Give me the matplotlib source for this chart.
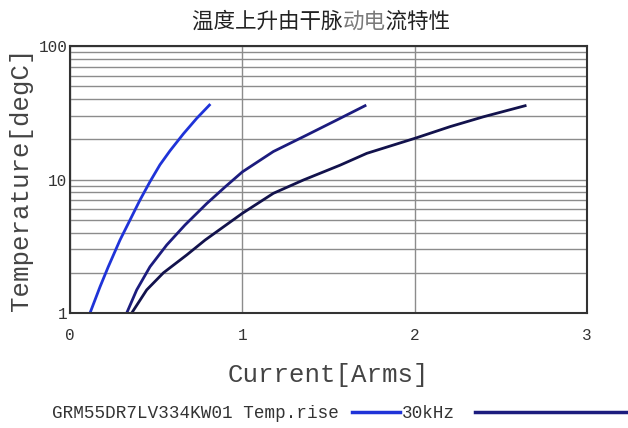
import numpy as np
import matplotlib.pyplot as plt
from matplotlib.lines import Line2D

# Datos (corriente [Arms], temperatura [degC])
i_30k = [0.116, 0.174, 0.222, 0.290, 0.348, 0.406, 0.464, 0.522, 0.580, 0.658, 0.735, 0.809]
t_30k = [1.0, 1.57, 2.22, 3.52, 4.97, 7.02, 9.63, 12.9, 16.4, 22.0, 28.7, 36.1]

i_mid = [0.329, 0.387, 0.464, 0.561, 0.667, 0.793, 0.900, 1.000, 1.180, 1.373, 1.548, 1.712]
t_mid = [1.0, 1.49, 2.22, 3.23, 4.56, 6.6, 8.8, 11.4, 16.2, 21.5, 27.9, 35.7]

i_low = [0.358, 0.445, 0.542, 0.677, 0.784, 1.000, 1.180, 1.354, 1.567, 1.722,
         2.004, 2.206, 2.399, 2.641]
t_low = [1.0, 1.49, 2.0, 2.72, 3.52, 5.58, 7.88, 9.91, 12.8, 15.7,
         20.4, 24.9, 29.5, 35.7]

colores = ['#1f33d8', '#1c1c7e', '#12124c']
x_ticks = [0, 1, 2, 3]
y_ticks = [1, 10, 100]

titulo_ini = '温度上升由干脉'
titulo_gris = '动电'
titulo_fin = '流特性'

mono = 'Liberation Mono'

fig = plt.figure(figsize=(6.28, 4.28), dpi=100)
ax = fig.add_axes([0.1115, 0.2687, 0.8232, 0.6238])

for xs, ys, c in zip([i_30k, i_mid, i_low], [t_30k, t_mid, t_low], colores):
    ax.plot(xs, ys, color=c, lw=2)

ax.set_yscale('log')
ax.set_xlim(0, 3)
ax.set_ylim(1, 100)
ax.set_xticks(x_ticks)
ax.set_xticklabels([str(v) for v in x_ticks], fontfamily=mono, fontsize=11.5, color='#333333')
ax.set_yticks(y_ticks)
ax.set_yticklabels([str(v) for v in y_ticks], fontfamily=mono, fontsize=11.5, color='#333333')
ax.yaxis.set_minor_formatter(plt.NullFormatter())
ax.tick_params(which='both', length=0)
ax.tick_params(axis='x', pad=11)
ax.tick_params(axis='y', pad=2)

ax.grid(True, which='major', axis='x', color='#8c8c8c', lw=1)
ax.grid(True, which='both', axis='y', color='#8c8c8c', lw=1)
for s in ax.spines.values():
    s.set_color('#333333')
    s.set_linewidth(1.5)

ax.set_xlabel('Current[Arms]', fontfamily=mono, fontsize=18.5, color='#444444', labelpad=14)
ax.set_ylabel('Temperature[degC]', fontfamily=mono, fontsize=18.5, color='#444444', labelpad=4)

# Título: "动电" en gris; en el texto oscuro se deja el hueco con espacios de ancho completo
cjk = ['Noto Sans CJK SC', 'DejaVu Sans']
x0 = 0.306
fig.text(x0, 0.949, titulo_ini + '\u3000' * len(titulo_gris) + titulo_fin,
         ha='left', va='center', fontfamily=cjk, fontsize=15.5, color='#222222')
fig.canvas.draw()
r = fig.canvas.get_renderer()
tmp = fig.text(x0, 0.949, titulo_ini, ha='left', va='center',
               fontfamily=cjk, fontsize=15.5, color='none')
ancho = tmp.get_window_extent(renderer=r).width / fig.bbox.width
tmp.remove()
fig.text(x0 + ancho, 0.949, titulo_gris, ha='left', va='center',
         fontfamily=cjk, fontsize=15.5, color='#7a7a7a')

# Leyenda (cortada a la derecha como en el original)
fig.text(0.083, 0.035, 'GRM55DR7LV334KW01 Temp.rise', fontfamily=mono, fontsize=12.7,
         color='#333333', va='center')
fig.add_artist(Line2D([0.561, 0.637], [0.037, 0.037], color=colores[0], lw=2.5))
fig.text(0.640, 0.035, '30kHz', fontfamily=mono, fontsize=12.7, color='#333333', va='center')
fig.add_artist(Line2D([0.756, 1.0], [0.037, 0.037], color=colores[1], lw=2.5))

fig.savefig('out.png', dpi=100)
